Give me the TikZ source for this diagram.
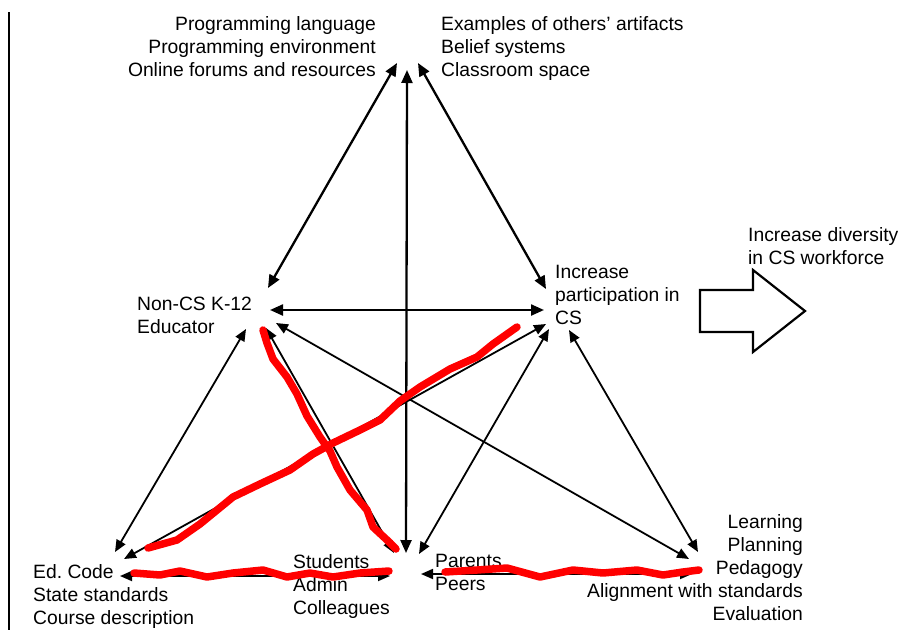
\documentclass[tikz,border=0pt]{standalone}
\usepackage{fontspec}
\setmainfont{Liberation Sans}
\usetikzlibrary{arrows.meta}
\begin{document}
\begin{tikzpicture}[x=1pt,y=-1pt,
  lbl/.style={inner sep=0pt, font=\fontsize{19.3}{23}\selectfont},
  link/.style={line width=1.8pt, {Triangle[length=12pt,width=10pt]}-{Triangle[length=12pt,width=10pt]}},
  mainlink/.style={line width=2.3pt, {Triangle[length=13pt,width=11pt]}-{Triangle[length=13pt,width=11pt]}},
  strike/.style={red, line width=7.5pt, line join=round, line cap=round},
]
\useasboundingbox (0,0) rectangle (900,630);
\frenchspacing

% margin rule on the left
\coordinate (ruleTop) at (9,12);
\coordinate (ruleBot) at (9,630);
\draw[line width=2.2pt] (ruleTop) -- (ruleBot);

% text blocks of the activity system
\node[lbl, anchor=north east, align=right] (toolsL) at (376,16)
  {Programming language\\Programming environment\\Online forums and resources};
\node[lbl, anchor=north west, align=left] (toolsR) at (441,16)
  {Examples of others’ artifacts\\Belief systems\\Classroom space};
\node[lbl, anchor=north west, align=left] (subject) at (137,297)
  {Non-CS K-12\\Educator};
\node[lbl, anchor=north west, align=left] (object) at (555,265)
  {Increase\\participation in\\CS};
\node[lbl, anchor=north west, align=left] (outcome) at (748,227)
  {Increase diversity\\in CS workforce};
\node[lbl, anchor=north west, align=left] (rules) at (33,564)
  {Ed. Code\\State standards\\Course description};
\node[lbl, anchor=north west, align=left] (commL) at (293,554)
  {Students\\Admin\\Colleagues};
\node[lbl, anchor=north west, align=left] (commR) at (435,554)
  {Parents\\Peers};
\node[lbl, anchor=north east, align=right] (labour) at (803,514)
  {Learning\\Planning\\Pedagogy\\Alignment with standards\\Evaluation};

% outcome block arrow
\draw[line width=2.2pt, line join=miter] (700,290) -- (753,290) -- (753,270) -- (805,311)
  -- (753,352) -- (753,332) -- (700,332) -- cycle;

% arrow end points
\coordinate (tL) at (397,63);
\coordinate (tM) at (407,70);
\coordinate (tR) at (418,63);
\coordinate (sT) at (268,288);
\coordinate (sR) at (270,310);
\coordinate (sBL) at (246,329);
\coordinate (sB) at (266,328);
\coordinate (sBR) at (276,323);
\coordinate (oT) at (546,289);
\coordinate (oL) at (544,310);
\coordinate (oBL) at (546,324);
\coordinate (oB) at (549,329);
\coordinate (oBR) at (569,330);
\coordinate (rT) at (115,552);
\coordinate (rTR) at (124,559);
\coordinate (rR) at (120,576);
\coordinate (cT) at (394,553);
\coordinate (cR) at (390,576);
\coordinate (mB) at (406,553);
\coordinate (pT) at (419,554);
\coordinate (pL) at (421,574);
\coordinate (dTL) at (689,559);
\coordinate (dT) at (698,552);
\coordinate (dL) at (692,574);

% connectors
\draw[mainlink] (tL) -- (sT);
\draw[mainlink] (tR) -- (oT);
\draw[mainlink] (tM) -- (mB);
\draw[mainlink] (sR) -- (oL);
\draw[link] (sBL) -- (rT);
\draw[link] (sBR) -- (dTL);
\draw[link] (oBL) -- (rTR);
\draw[link] (oB) -- (pT);
\draw[link] (oBR) -- (dT);
\draw[link] (sB) -- (cT);
\draw[link] (rR) -- (cR);
\draw[link] (pL) -- (dL);

% hand-drawn red strike-throughs
\draw[strike] (148,548) -- (177,540) -- (200,524) -- (233,497) -- (260,484) -- (290,470)
  -- (313,454) -- (333,443) -- (360,430) -- (380,420) -- (400,401) -- (420,387)
  -- (450,369) -- (477,357) -- (493,344) -- (517,327);
\draw[strike] (263,330) -- (267,343) -- (273,359) -- (287,377) -- (297,394) -- (307,416)
  -- (320,437) -- (330,451) -- (337,467) -- (350,490) -- (367,510) -- (373,527)
  -- (387,540) -- (396,549);
\draw[strike] (134,573) -- (160,575) -- (180,571) -- (207,577) -- (233,573) -- (263,570)
  -- (287,577) -- (310,573) -- (333,577) -- (360,573) -- (389,571);
\draw[strike] (445,572) -- (477,570) -- (507,568) -- (540,577) -- (573,570) -- (603,573)
  -- (637,570) -- (663,575) -- (683,572) -- (699,570);
\end{tikzpicture}
\end{document}
